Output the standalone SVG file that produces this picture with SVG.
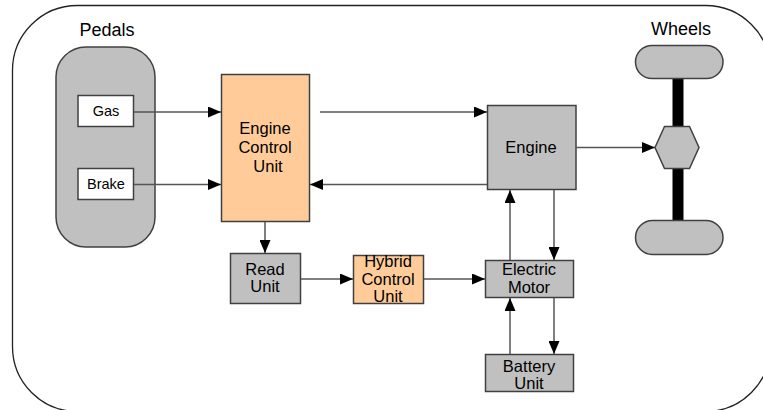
<svg xmlns="http://www.w3.org/2000/svg" width="763" height="410" viewBox="0 0 763 410">
  <style>
    text { font-family: "Liberation Sans", Arial, sans-serif; fill: #000; text-anchor: middle; }
    .lbl { font-size: 16.5px; }
    .small { font-size: 14.5px; }
    .title { font-size: 18px; }
    .gray { fill: #c0c0c0; stroke: #404040; stroke-width: 1.5; }
    .orange { fill: #ffcc99; stroke: #404040; stroke-width: 1.5; }
    .white { fill: #ffffff; stroke: #404040; stroke-width: 1.5; }
    .wire { fill: none; stroke: #555555; stroke-width: 1.5; marker-end: url(#arrow); }
  </style>
  <defs>
    <marker id="arrow" markerUnits="userSpaceOnUse" markerWidth="13" markerHeight="11" refX="13" refY="5.5" orient="auto">
      <path d="M0,0 L13,5.5 L0,11 Z" fill="#000"/>
    </marker>
  </defs>

  <!-- outer frame -->
  <rect x="12.5" y="5.5" width="758" height="406" rx="65" ry="65" fill="#fff" stroke="#222" stroke-width="1.3"/>

  <!-- pedals -->
  <g id="pedals">
    <text class="title" x="107" y="36">Pedals</text>
    <rect class="gray" x="56" y="47" width="99" height="200" rx="30" ry="30"/>
  </g>
  <g id="gas">
    <rect class="white" x="78" y="95.5" width="55.5" height="31"/>
    <text class="small" x="106" y="116">Gas</text>
  </g>
  <g id="brake">
    <rect class="white" x="78" y="168.5" width="55.5" height="31"/>
    <text class="small" x="106" y="189">Brake</text>
  </g>

  <!-- engine control unit -->
  <g id="ecu">
    <rect class="orange" x="221.5" y="74.5" width="88" height="147"/>
    <text class="lbl" x="265" y="134">Engine</text>
    <text class="lbl" x="265" y="153">Control</text>
    <text class="lbl" x="268" y="172">Unit</text>
  </g>

  <!-- engine -->
  <g id="engine">
    <rect class="gray" x="487.5" y="105.5" width="88.5" height="84"/>
    <text class="lbl" x="531" y="153">Engine</text>
  </g>

  <!-- wheels and axle -->
  <g id="wheels">
    <text class="title" x="681" y="35">Wheels</text>
    <rect x="672.5" y="78" width="11" height="143" fill="#000"/>
    <rect class="gray" x="635.5" y="45.5" width="87.5" height="33" rx="16.5" ry="16.5"/>
    <rect class="gray" x="635.5" y="220.5" width="87.5" height="34" rx="17" ry="17"/>
    <polygon class="gray" points="655,147.5 664.5,126.5 689.5,126.5 699,147.5 689.5,168.5 664.5,168.5"/>
  </g>

  <!-- read unit -->
  <g id="read-unit">
    <rect class="gray" x="230.5" y="253.5" width="70" height="50"/>
    <text class="lbl" x="265" y="275">Read</text>
    <text class="lbl" x="265" y="292">Unit</text>
  </g>

  <!-- hybrid control unit -->
  <g id="hybrid-control-unit">
    <rect class="orange" x="353.5" y="255.5" width="70" height="48"/>
    <text class="lbl" x="388" y="267">Hybrid</text>
    <text class="lbl" x="388" y="285">Control</text>
    <text class="lbl" x="388" y="302">Unit</text>
  </g>

  <!-- electric motor -->
  <g id="electric-motor">
    <rect class="gray" x="485.5" y="260.5" width="88" height="37"/>
    <text class="lbl" x="529" y="275">Electric</text>
    <text class="lbl" x="529" y="293">Motor</text>
  </g>

  <!-- battery unit -->
  <g id="battery-unit">
    <rect class="gray" x="485.5" y="354.5" width="88" height="37"/>
    <text class="lbl" x="529" y="372">Battery</text>
    <text class="lbl" x="529" y="389">Unit</text>
  </g>

  <!-- connectors -->
  <g id="connectors">
    <line class="wire" x1="134" y1="112" x2="221" y2="112"/>
    <line class="wire" x1="134" y1="184.5" x2="221" y2="184.5"/>
    <line class="wire" x1="320" y1="112" x2="487" y2="112"/>
    <line class="wire" x1="487" y1="184.5" x2="310" y2="184.5"/>
    <line class="wire" x1="576" y1="147.5" x2="655" y2="147.5"/>
    <line class="wire" x1="265" y1="222" x2="265" y2="253"/>
    <line class="wire" x1="301" y1="279" x2="353" y2="279"/>
    <line class="wire" x1="424" y1="279" x2="485" y2="279"/>
    <line class="wire" x1="510" y1="260" x2="510" y2="190"/>
    <line class="wire" x1="554" y1="190" x2="554" y2="260"/>
    <line class="wire" x1="510" y1="354" x2="510" y2="298"/>
    <line class="wire" x1="554" y1="298" x2="554" y2="354"/>
  </g>
</svg>
